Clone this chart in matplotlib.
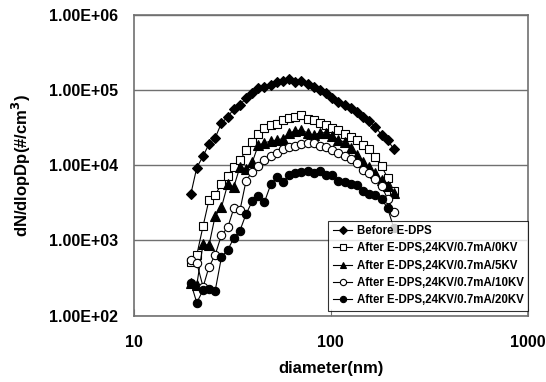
import matplotlib
matplotlib.use('Agg')
import matplotlib.pyplot as plt

plt.rcParams['font.family'] = ['Liberation Sans', 'DejaVu Sans']
plt.rcParams['font.weight'] = 'bold'
plt.rcParams['mathtext.default'] = 'bf'

# SMPS channel mid diameters (nm)
diameter = [19.5, 20.9, 22.5, 24.1, 25.9, 27.9, 30.0, 32.2, 34.6, 37.2,
            40.0, 42.9, 46.1, 49.6, 53.3, 57.3, 61.5, 66.1, 71.0, 76.4,
            82.0, 88.2, 94.7, 101.8, 109.4, 117.6, 126.3, 135.8, 145.9, 156.8,
            168.5, 181.1, 194.6, 209.1]

before = [4140, 9300, 13200, 19100, 23000, 36400, 43700, 55900, 63100, 78200,
          91200, 106000, 110000, 116000, 126000, 131000, 138000, 126000, 133000, 120000,
          111000, 100000, 91200, 78100, 69800, 63100, 56700, 51400, 43700, 38700,
          32500, 25200, 21600, 16300]

kv0 = [518, 641, 1556, 3450, 4020, 5620, 7180, 9460, 11550, 15900,
       20500, 26000, 30900, 33700, 35800, 39300, 43000, 43300, 46500, 41700,
       39300, 36900, 34200, 31200, 29400, 26000, 23700, 21600, 18550, 16300,
       12850, 9750, 6760, 4580]

kv5 = [272, 256, 897, 857, 2110, 2760, 5620, 5130, 9460, 8900,
       11000, 18530, 19700, 21000, 21600, 22600, 26800, 28500, 29400, 26800,
       25200, 27000, 27000, 24800, 21600, 20300, 16900, 13700, 11000, 9460,
       7870, 6360, 5300, 4220]

kv10 = [550, 501, 241, 444, 641, 1181, 1486, 2660, 2500, 6260,
        8200, 9610, 11550, 13250, 14650, 16170, 17200, 18000, 19100, 19900,
        19500, 18000, 17300, 15700, 14400, 13050, 11980, 10540, 8630, 7950,
        6560, 5300, 3560, 2410]

kv20 = [270, 149, 219, 224, 213, 603, 747, 1069, 1349, 2245,
        3340, 3840, 3240, 5540, 6900, 5980, 7410, 7760, 8130, 8380,
        7800, 8250, 7520, 7300, 6170, 5890, 5620, 5460, 4610, 4080,
        3960, 3560, 2670, 1460]

series = [
    ('Before E-DPS', before, 'D', 'black', 5),
    ('After E-DPS,24KV/0.7mA/0KV', kv0, 's', 'white', 6),
    ('After E-DPS,24KV/0.7mA/5KV', kv5, '^', 'black', 6.5),
    ('After E-DPS,24KV/0.7mA/10KV', kv10, 'o', 'white', 6),
    ('After E-DPS,24KV/0.7mA/20KV', kv20, 'o', 'black', 6),
]

fig = plt.figure(figsize=(5.46, 3.82), dpi=100)
ax = fig.add_axes([0.2449, 0.1736, 0.7216, 0.7879])

for name, vals, mk, fc, ms in series:
    ax.plot(diameter, vals, color='black', lw=0.8, marker=mk, ms=ms,
            mfc=fc, mec='black', mew=0.8, label=name)

ax.set_xscale('log')
ax.set_yscale('log')
ax.set_xlim(10, 1000)
ax.set_ylim(100, 1e6)

ax.set_yticks([1e2, 1e3, 1e4, 1e5, 1e6])
ax.set_yticklabels(['1.00E+02', '1.00E+03', '1.00E+04', '1.00E+05', '1.00E+06'])
ax.set_xticks([10, 100, 1000])
ax.set_xticklabels(['10', '100', '1000'])
ax.minorticks_off()
ax.tick_params(axis='y', length=0, pad=11, labelsize=11.5)
ax.tick_params(axis='x', direction='in', length=5, color='#707070', pad=14, labelsize=11.5)
ax.grid(axis='y', color='#707070', lw=1)
ax.set_axisbelow(True)
for sp in ax.spines.values():
    sp.set_color('#707070')
    sp.set_linewidth(1.2)

ax.set_xlabel('diameter(nm)', fontsize=12, fontweight='bold', labelpad=8)
ax.set_ylabel('dN/dlopDp(#/cm$^3$)', fontsize=12, fontweight='bold', labelpad=12)

leg = ax.legend(loc='lower right', bbox_to_anchor=(1.002, 0.017), borderaxespad=0,
                fontsize=8.3, frameon=True, fancybox=False, edgecolor='black',
                handlelength=1.7, handletextpad=0.4, labelspacing=0.45,
                borderpad=0.4, markerscale=0.75)
leg.get_frame().set_linewidth(0.8)

fig.savefig('out.png', dpi=100)
